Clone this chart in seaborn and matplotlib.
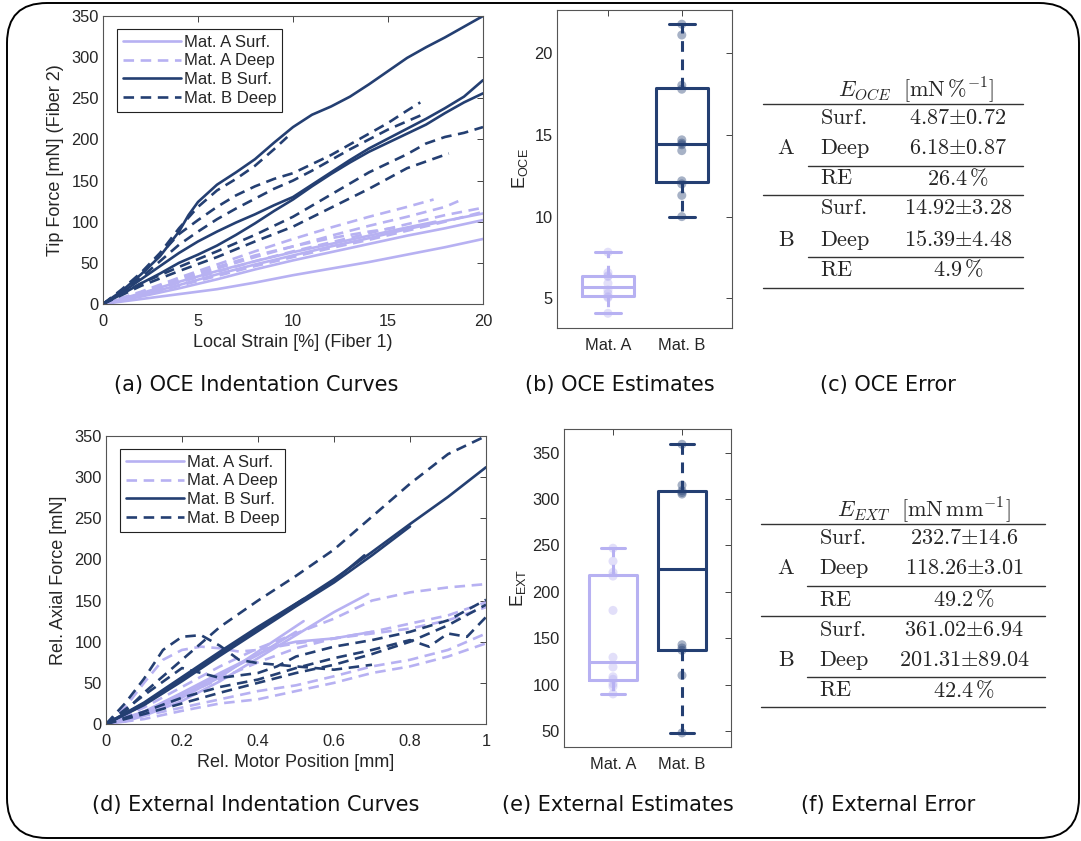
import numpy as np
import pandas as pd
import seaborn as sns
import matplotlib.pyplot as plt
from matplotlib.lines import Line2D
from matplotlib.patches import FancyBboxPatch
from matplotlib.transforms import IdentityTransform

sns.set_theme(style='white')
plt.rcParams['font.family'] = ['Liberation Sans', 'DejaVu Sans']
plt.rcParams['mathtext.fontset'] = 'custom'
plt.rcParams['mathtext.rm'] = 'Liberation Sans'

LIGHT = '#B7B1F2'
DARK = '#243F72'
GROUPS = ['Mat. A Surf.', 'Mat. A Deep', 'Mat. B Surf.', 'Mat. B Deep']

# ---- (a) OCE indentation curves: strain [%] vs tip force [mN] ----
oce_a_surf = [
    ([0, 2, 4, 6, 8, 10, 12, 14, 16, 18, 20], [0, 6, 12, 18, 26, 35, 43, 51, 60, 69, 79]),
    ([0, 2, 4, 6, 8, 10, 12, 14, 16, 18, 20], [0, 9, 19, 30, 42, 53, 63, 73, 83, 92, 102]),
    ([0, 2, 4, 6, 8, 10, 12, 14, 16, 18, 20], [0, 11, 23, 36, 48, 59, 70, 80, 91, 101, 110]),
    ([0, 2, 4, 6, 8, 10, 12, 14, 16, 17.5], [0, 13, 27, 40, 52, 63, 73, 83, 93, 100]),
]
oce_a_deep = [
    ([0, 2, 4, 6, 8, 10, 12, 14, 16, 17.4], [0, 15, 32, 48, 64, 79, 93, 106, 118, 127]),
    ([0, 2, 4, 6, 8, 10, 12, 14, 16, 18, 18.7], [0, 13, 28, 43, 57, 70, 83, 95, 106, 118, 125]),
    ([0, 2, 4, 6, 8, 10, 12, 14, 16, 18, 20], [0, 12, 26, 39, 52, 64, 75, 86, 97, 108, 117]),
    ([0, 2, 4, 6, 8, 10, 12, 14, 16, 18, 20], [0, 10, 22, 34, 46, 57, 68, 78, 89, 100, 112]),
    ([0, 2, 4, 6, 8, 10, 12, 14, 15.5], [0, 14, 30, 45, 59, 70, 80, 88, 93]),
]
oce_b_surf = [
    ([0, 1, 2, 3, 4, 4.5, 5, 6, 7, 8, 9, 10, 11, 12, 13, 14, 15, 16, 17, 18, 19, 20],
     [0, 16, 36, 58, 88, 108, 124, 145, 160, 176, 196, 215, 230, 240, 252, 267, 283, 299, 312, 324, 337, 350]),
    ([0, 1, 2, 3, 4, 5, 6, 7, 8, 9, 10, 11, 12, 13, 14, 15, 16, 17, 18, 19, 20],
     [0, 14, 30, 46, 62, 76, 88, 99, 109, 120, 130, 145, 160, 175, 189, 201, 213, 225, 238, 252, 272]),
    ([0, 1, 2, 3, 4, 5, 6, 7, 8, 9, 10, 11, 12, 13, 14, 15, 16, 17, 18, 19, 20],
     [0, 12, 25, 37, 50, 60, 71, 84, 98, 113, 127, 143, 158, 172, 185, 196, 207, 218, 232, 245, 256]),
]
oce_b_deep = [
    ([0, 1, 2, 3, 4, 5, 6, 7, 8, 9, 9.7], [0, 18, 38, 62, 92, 118, 138, 152, 168, 188, 203]),
    ([0, 1, 2, 3, 4, 5, 6, 7, 8, 9, 10, 11, 12, 13, 14, 15, 16, 16.7],
     [0, 16, 35, 60, 85, 102, 118, 132, 143, 152, 159, 170, 181, 194, 207, 220, 235, 245]),
    ([0, 1, 2, 3, 4, 5, 6, 7, 8, 9, 10, 11, 12, 13, 14, 15, 16, 17],
     [0, 15, 32, 52, 72, 88, 103, 116, 128, 140, 150, 162, 175, 188, 200, 212, 222, 232]),
    ([0, 2, 4, 6, 8, 10, 12, 14, 15, 16, 17, 18, 19, 20],
     [0, 25, 45, 64, 84, 106, 133, 160, 171, 182, 195, 203, 208, 215]),
    ([0, 2, 4, 6, 8, 10, 12, 14, 16, 18.2], [0, 22, 40, 57, 76, 94, 117, 140, 165, 183]),
]

# ---- (d) external indentation curves: motor position [mm] vs axial force [mN] ----
ext_a_surf = [
    ([0, 0.05, 0.1, 0.2, 0.3, 0.4, 0.5, 0.6, 0.69], [0, 3, 10, 28, 52, 80, 108, 136, 158]),
    ([0, 0.1, 0.2, 0.3, 0.4, 0.52], [0, 12, 32, 57, 88, 125]),
    ([0, 0.1, 0.2, 0.3, 0.4, 0.5], [0, 14, 35, 60, 84, 112]),
    ([0, 0.1, 0.2, 0.3, 0.4, 0.45, 0.5, 0.6, 0.7], [0, 15, 38, 62, 85, 95, 100, 104, 112]),
]
ext_a_deep = [
    ([0, 0.05, 0.1, 0.15, 0.2, 0.25, 0.3, 0.35, 0.4, 0.5, 0.6, 0.7, 0.8, 0.9, 1.0],
     [0, 20, 50, 78, 90, 94, 92, 88, 90, 98, 104, 110, 116, 126, 142]),
    ([0, 0.1, 0.2, 0.3, 0.4, 0.5, 0.6, 0.7, 0.8, 0.9, 1.0], [0, 20, 45, 70, 92, 110, 128, 150, 160, 166, 170]),
    ([0, 0.1, 0.2, 0.3, 0.4, 0.5, 0.6, 0.7, 0.8, 0.9, 1.0], [0, 15, 34, 55, 75, 92, 104, 112, 122, 132, 148]),
    ([0, 0.1, 0.2, 0.3, 0.4, 0.5, 0.6, 0.7, 0.8, 0.9, 1.0], [0, 10, 20, 30, 40, 47, 58, 70, 78, 90, 110]),
    ([0, 0.1, 0.2, 0.3, 0.4, 0.5, 0.6, 0.7, 0.8, 0.9, 1.0], [0, 6, 16, 25, 30, 40, 50, 62, 70, 82, 98]),
]
ext_b_surf = [
    ([0, 0.1, 0.2, 0.3, 0.4, 0.5, 0.6, 0.7, 0.8, 0.9, 1.0], [0, 24, 54, 85, 115, 146, 176, 209, 243, 276, 312]),
    ([0, 0.1, 0.2, 0.3, 0.4, 0.52], [0, 26, 57, 88, 118, 152]),
    ([0, 0.1, 0.2, 0.3, 0.4, 0.5, 0.6, 0.68], [0, 25, 55, 86, 116, 145, 174, 205]),
    ([0, 0.1, 0.2, 0.3, 0.4, 0.5, 0.6, 0.7, 0.8], [0, 23, 52, 83, 113, 143, 172, 205, 240]),
]
ext_b_deep = [
    ([0, 0.05, 0.1, 0.2, 0.3, 0.4, 0.5, 0.6, 0.7, 0.8, 0.9, 1.0], [0, 15, 38, 78, 118, 150, 180, 212, 252, 292, 328, 350]),
    ([0, 0.05, 0.1, 0.15, 0.2, 0.25, 0.3, 0.35, 0.4, 0.5, 0.6, 0.7], [0, 25, 55, 90, 106, 108, 95, 78, 74, 70, 66, 72]),
    ([0, 0.1, 0.2, 0.3, 0.4, 0.45, 0.5, 0.6, 0.7, 0.8, 0.9, 1.0], [0, 35, 68, 56, 62, 70, 82, 94, 102, 112, 126, 151]),
    ([0, 0.1, 0.2, 0.3, 0.4, 0.5, 0.6, 0.7, 0.8, 0.85, 0.9, 0.95, 1.0], [0, 15, 32, 45, 54, 68, 80, 90, 102, 94, 110, 106, 130]),
    ([0, 0.1, 0.2, 0.3, 0.4, 0.5, 0.6, 0.7, 0.8, 0.9, 1.0], [0, 12, 25, 38, 50, 62, 72, 85, 100, 120, 145]),
]

# ---- (b), (e) stiffness estimates per sample ----
mats = ['Mat. A', 'Mat. B']
e_oce_a = [4.08, 5.04, 5.1, 5.3, 5.5, 5.92, 6.33, 6.38, 6.57, 7.82]
e_oce_b = [10.0, 11.3, 12.0, 12.19, 14.04, 14.4, 14.5, 14.7, 17.8, 18.04, 21.12, 21.78]
e_ext_a = [90, 98, 101, 105.8, 108.5, 119, 129.5, 180, 217, 221, 233, 247]
e_ext_b = [48, 110, 137, 139.5, 143, 305.4, 307, 309, 315, 359]

# ---- (c), (f) tables ----
row_mats = ['A', 'B']
row_names = ['Surf.', 'Deep', 'RE']
oce_table = [['4.87{\\pm}0.72', '6.18{\\pm}0.87', '26.4\\,\\%'],
             ['14.92{\\pm}3.28', '15.39{\\pm}4.48', '4.9\\,\\%']]
ext_table = [['232.7{\\pm}14.6', '118.26{\\pm}3.01', '49.2\\,\\%'],
             ['361.02{\\pm}6.94', '201.31{\\pm}89.04', '42.4\\,\\%']]

W, H = 1081, 841
fig = plt.figure(figsize=(W / 100, H / 100), dpi=100)


def box(l, t, r, b):
    return [l / W, 1 - b / H, (r - l) / W, (b - t) / H]


def curves_df(groups):
    rows = []
    for g, curves in zip(GROUPS, groups):
        for i, (xs, ys) in enumerate(curves):
            for x, y in zip(xs, ys):
                rows.append((g, f'{g}{i}', x, y))
    return pd.DataFrame(rows, columns=['group', 'curve', 'x', 'y'])


palette = {GROUPS[0]: LIGHT, GROUPS[1]: LIGHT, GROUPS[2]: DARK, GROUPS[3]: DARK}
dash = (4, 2.5)
dashes = {GROUPS[0]: '', GROUPS[1]: dash, GROUPS[2]: '', GROUPS[3]: dash}


def style_ax(ax):
    ax.tick_params(direction='in', top=True, right=True, length=4, width=0.6,
                   colors='#262626', labelsize=11.8)
    ax.tick_params(axis='x', pad=7)
    ax.tick_params(axis='y', pad=3)
    for s in ax.spines.values():
        s.set_color('#555555')
        s.set_linewidth(0.8)


def line_panel(ax, groups, xlabel, ylabel, xlim, xticks, xticklabels):
    df = curves_df(groups)
    sns.lineplot(data=df, x='x', y='y', units='curve', estimator=None, hue='group',
                 style='group', palette=palette, dashes=dashes, sort=False,
                 legend=False, linewidth=1.9, ax=ax)
    ax.set_xlim(*xlim)
    ax.set_ylim(0, 350)
    ax.set_xticks(xticks)
    ax.set_xticklabels(xticklabels)
    ax.set_yticks(range(0, 351, 50))
    ax.set_xlabel(xlabel, fontsize=13, labelpad=4, color='#262626')
    ax.set_ylabel(ylabel, fontsize=13, labelpad=5, color='#262626')
    style_ax(ax)
    handles = [Line2D([], [], color=palette[g], lw=1.9,
                      linestyle='-' if dashes[g] == '' else (0, dash)) for g in GROUPS]
    leg = ax.legend(handles, GROUPS, loc='upper left', bbox_to_anchor=(0.037, 0.955),
                    borderaxespad=0, fontsize=12, handlelength=3.5, handletextpad=0.15,
                    labelspacing=0.22, borderpad=0.35, fancybox=False, framealpha=1)
    leg.get_frame().set_edgecolor('#222222')
    leg.get_frame().set_linewidth(0.8)


def box_panel(ax, a_vals, b_vals, ylabel, ylim, yticks, xlim):
    df = pd.DataFrame({'mat': [mats[0]] * len(a_vals) + [mats[1]] * len(b_vals),
                       'E': list(a_vals) + list(b_vals)})
    pal = {mats[0]: LIGHT, mats[1]: DARK}
    sns.boxplot(data=df, x='mat', y='E', hue='mat', palette=pal, fill=False, width=0.7,
                whis=(0, 100), showfliers=False, linewidth=2.2, legend=False,
                whiskerprops={'linestyle': (0, (3.5, 2.5))}, ax=ax)
    sns.stripplot(data=df, x='mat', y='E', hue='mat', palette=pal, jitter=False,
                  alpha=0.4, size=6.5, linewidth=0, legend=False, zorder=4, ax=ax)
    ax.set_xlim(*xlim)
    ax.set_ylim(*ylim)
    ax.set_yticks(yticks)
    ax.set_xlabel('')
    ax.set_ylabel(ylabel, fontsize=13, labelpad=3, color='#262626')
    style_ax(ax)


ax_a = fig.add_axes(box(103, 16, 483, 304))
line_panel(ax_a, [oce_a_surf, oce_a_deep, oce_b_surf, oce_b_deep],
           'Local Strain [%] (Fiber 1)', 'Tip Force [mN] (Fiber 2)',
           (0, 20), [0, 5, 10, 15, 20], ['0', '5', '10', '15', '20'])

ax_d = fig.add_axes(box(106, 436, 486, 724))
line_panel(ax_d, [ext_a_surf, ext_a_deep, ext_b_surf, ext_b_deep],
           'Rel. Motor Position [mm]', 'Rel. Axial Force [mN]',
           (0, 1), [0, 0.2, 0.4, 0.6, 0.8, 1.0], ['0', '0.2', '0.4', '0.6', '0.8', '1'])

ax_b = fig.add_axes(box(557, 10, 732, 328))
box_panel(ax_b, e_oce_a, e_oce_b, r'E$_{\mathrm{OCE}}$', (3.18, 22.65), [5, 10, 15, 20], (-0.69, 1.68))

ax_e = fig.add_axes(box(564, 429, 731, 747))
box_panel(ax_e, e_ext_a, e_ext_b, r'E$_{\mathrm{EXT}}$', (32.8, 375.5), range(50, 351, 50), (-0.71, 1.71))


def fx(px):
    return px / W


def fy(py):
    return 1 - py / H


def table(title, title_x, title_y, vals, rules, rows_y, mat_x, name_x, val_x):
    fig.text(fx(title_x), fy(title_y), title, ha='center', va='center', fontsize=16,
             math_fontfamily='cm')
    for (y, x0, x1) in rules:
        fig.add_artist(Line2D([fx(x0), fx(x1)], [fy(y), fy(y)], color='#333333', lw=1.0,
                              transform=fig.transFigure))
    for m, (mat, mvals) in enumerate(zip(row_mats, vals)):
        ys = rows_y[m]
        fig.text(fx(mat_x), fy(ys[1]), f'$\\mathrm{{{mat}}}$', ha='center', va='center',
                 fontsize=16, math_fontfamily='cm')
        for name, v, y in zip(row_names, mvals, ys):
            fig.text(fx(name_x), fy(y), f'$\\mathrm{{{name}}}$', ha='left', va='center',
                     fontsize=16, math_fontfamily='cm')
            fig.text(fx(val_x), fy(y), f'${v}$', ha='center', va='center',
                     fontsize=16, math_fontfamily='cm')


table(r'$E_{OCE}\ \ [\mathrm{mN}\,\%^{-1}]$', 916, 90, oce_table,
      [(104, 763, 1023), (166, 808, 1023), (195, 763, 1023), (257, 808, 1023), (288, 763, 1023)],
      [(118, 148, 179), (209, 240, 270)], 786, 820, 958)
table(r'$E_{EXT}\ \ [\mathrm{mN}\,\mathrm{mm}^{-1}]$', 924, 510, ext_table,
      [(524, 761, 1045), (586, 807, 1045), (616, 761, 1045), (677, 807, 1045), (707, 761, 1045)],
      [(539, 569, 600), (630, 660, 691)], 786, 819, 964)

captions = ['(a) OCE Indentation Curves', '(b) OCE Estimates', '(c) OCE Error',
            '(d) External Indentation Curves', '(e) External Estimates', '(f) External Error']
cap_x = [256, 620, 888, 256, 618, 888]
cap_y = [385, 385, 385, 805, 805, 805]
for c, x, y in zip(captions, cap_x, cap_y):
    fig.text(fx(x), fy(y), c, ha='center', va='center', fontsize=15, family='DejaVu Sans',
             color='#111111')

fig.add_artist(FancyBboxPatch((7, 3), 1072, 835, boxstyle='round,pad=0,rounding_size=40',
                              transform=IdentityTransform(), fill=False, edgecolor='black',
                              linewidth=1.4))

fig.savefig('out.png', dpi=100)
